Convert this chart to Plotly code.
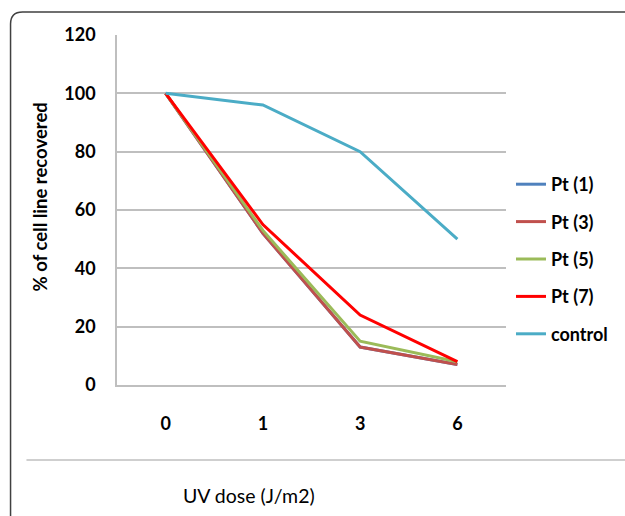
import plotly.graph_objects as go

doses = ["0", "1", "3", "6"]
pt1 = [100, 52, 13, 7]
pt3 = [100, 52, 13, 7]
pt5 = [100, 53, 15, 8]
pt7 = [100, 55, 24, 8]
control = [100, 96, 80, 50]
y_ticks = [0, 20, 40, 60, 80, 100, 120]

series = [
    ("Pt (1)", pt1, "#4F81BD"),
    ("Pt (3)", pt3, "#C0504D"),
    ("Pt (5)", pt5, "#9BBB59"),
    ("Pt (7)", pt7, "#FF0000"),
    ("control", control, "#4BACC6"),
]

FONT = "Lato"
W, H = 625, 516
L, R, T, B = 117, 117, 35, 131
pw, ph = W - L - R, H - T - B


def px(x):
    return (x - L) / pw


def py(y):
    return (H - B - y) / ph


fig = go.Figure()
for i, (name, vals, col) in enumerate(series):
    fig.add_trace(go.Scatter(
        x=doses, y=vals, name=name, mode="lines",
        line=dict(color=col, width=3), legendgroup=f"g{i}",
    ))

# frame (rounded top-left corner, cropped right/bottom)
r = 12
x0, y0 = 10, 12
frame = (f"M {px(x0)},{py(H + 5)} L {px(x0)},{py(y0 + r)} "
         f"Q {px(x0)},{py(y0)} {px(x0 + r)},{py(y0)} L {px(W + 5)},{py(y0)}")
fig.add_shape(type="path", path=frame, xref="paper", yref="paper",
              line=dict(color="#404040", width=1.5))
# separator line
fig.add_shape(type="line", xref="paper", yref="paper",
              x0=px(26), x1=px(W + 5), y0=py(460), y1=py(460),
              line=dict(color="#BFBFBF", width=1.5))

fig.add_annotation(text="% of cell line recovered", textangle=-90,
                   xref="paper", yref="paper", x=px(40), y=py(197),
                   xanchor="center", yanchor="middle", showarrow=False,
                   font=dict(family=FONT, size=18.5, color="#000", weight="bold"))
fig.add_annotation(text="UV dose (J/m2)",
                   xref="paper", yref="paper", x=px(250), y=py(495),
                   xanchor="center", yanchor="middle", showarrow=False,
                   font=dict(family=FONT, size=19.5, color="#000"))

fig.update_layout(
    width=W, height=H,
    margin=dict(l=L, r=R, t=T, b=B),
    paper_bgcolor="white", plot_bgcolor="white",
    font=dict(family=FONT, color="#000"),
    showlegend=True,
    legend=dict(x=px(513), y=py(166), xanchor="left", yanchor="top",
                traceorder="grouped", tracegroupgap=11,
                font=dict(family=FONT, size=18, color="#000", weight="bold"),
                bgcolor="rgba(0,0,0,0)"),
    xaxis=dict(type="category", range=[-0.5, 3.5], showgrid=False,
               showline=True, linecolor="#BFBFBF", linewidth=1.5,
               ticks="", ticklabelstandoff=22,
               tickfont=dict(family=FONT, size=18, color="#000", weight="bold")),
    yaxis=dict(range=[0, 120], tickvals=y_ticks, showgrid=True,
               gridcolor="#BFBFBF", gridwidth=1.5, zeroline=False,
               showline=True, linecolor="#BFBFBF", linewidth=1.5,
               ticks="", ticklabelstandoff=16,
               tickfont=dict(family=FONT, size=18, color="#000", weight="bold")),
)

fig.write_html("out.html", config={"displayModeBar": False},
               post_script="document.body.style.margin='0';")
